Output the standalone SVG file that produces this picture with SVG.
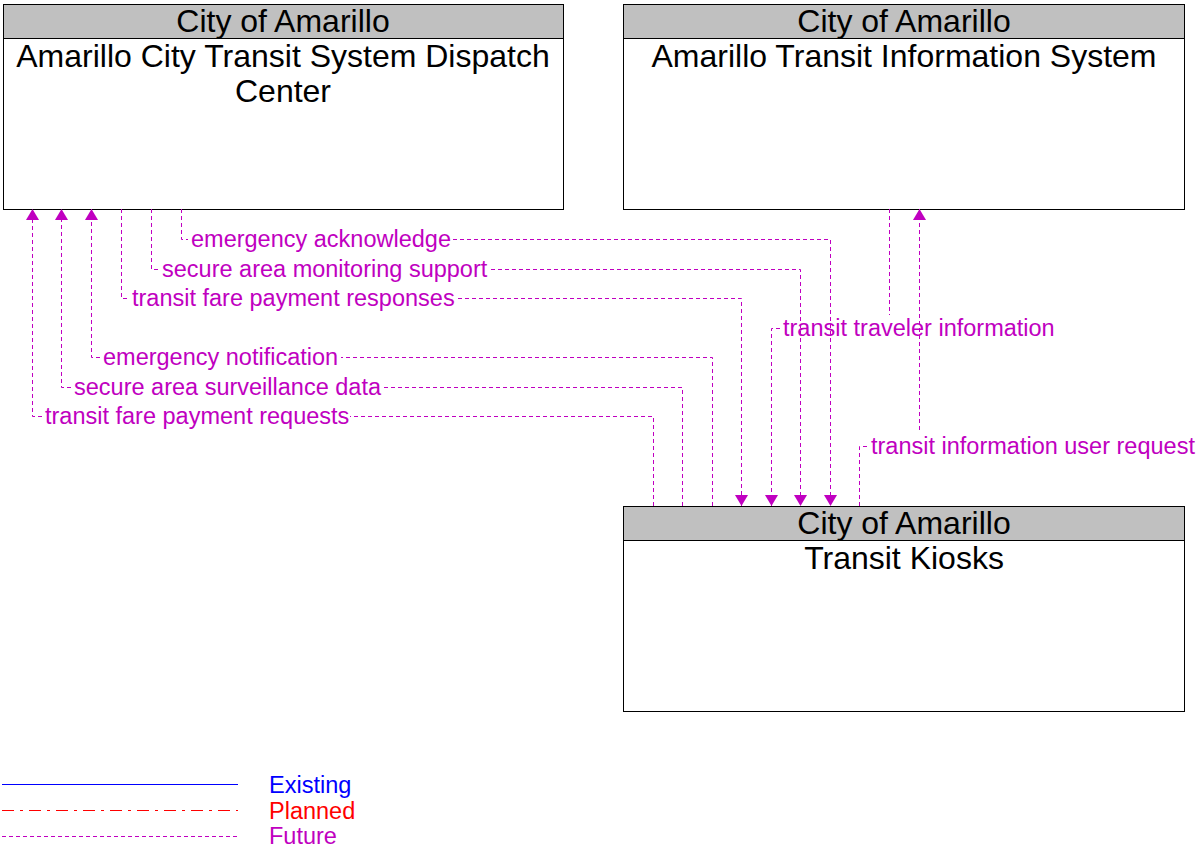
<svg xmlns="http://www.w3.org/2000/svg" width="1200" height="864" viewBox="0 0 1200 864">
<style>
.box{fill:#ffffff;stroke:#000000;stroke-width:1}
.hdr{fill:#c0c0c0;stroke:#000000;stroke-width:1}
.t{font-family:"Liberation Sans",Arial,sans-serif;font-size:32px;fill:#000000;text-anchor:middle}
.lbl{font-family:"Liberation Sans",Arial,sans-serif;font-size:23.5px;fill:#c000c0}
.fut{fill:none;stroke:#c000c0;stroke-width:1;stroke-dasharray:4,3}
</style>
<defs>
<marker id="arr" viewBox="0 0 11 13" refX="11" refY="6.5" markerWidth="11" markerHeight="13" markerUnits="userSpaceOnUse" orient="auto">
<path d="M0,0 L11,6.5 L0,13 z" fill="#c000c0"/>
</marker>
</defs>
<rect width="1200" height="864" fill="#ffffff"/>
<g id="dispatch">
<rect class="box" x="3.5" y="4.5" width="560" height="205"/>
<rect class="hdr" x="3.5" y="4.5" width="560" height="34"/>
<text class="t" x="283" y="32">City of Amarillo</text>
<text class="t" x="283" y="67">Amarillo City Transit System Dispatch</text>
<text class="t" x="283" y="102">Center</text>
</g>
<g id="infosys">
<rect class="box" x="623.5" y="4.5" width="561" height="205"/>
<rect class="hdr" x="623.5" y="4.5" width="561" height="34"/>
<text class="t" x="904" y="32">City of Amarillo</text>
<text class="t" x="904" y="67">Amarillo Transit Information System</text>
</g>
<g id="kiosks">
<rect class="box" x="623.5" y="506.5" width="561" height="205"/>
<rect class="hdr" x="623.5" y="506.5" width="561" height="34"/>
<text class="t" x="904" y="534">City of Amarillo</text>
<text class="t" x="904" y="569">Transit Kiosks</text>
</g>
<g id="connectors">
<path class="fut" d="M181.5,209V239.5H188"/>
<path class="fut" d="M453,239.5H830.5V506" marker-end="url(#arr)"/>
<text class="lbl" x="191" y="247">emergency acknowledge</text>
<path class="fut" d="M151.5,209V269.5H159"/>
<path class="fut" d="M491,269.5H800.5V506" marker-end="url(#arr)"/>
<text class="lbl" x="162" y="277">secure area monitoring support</text>
<path class="fut" d="M121.5,209V298.5H129"/>
<path class="fut" d="M458,298.5H741.5V506" marker-end="url(#arr)"/>
<text class="lbl" x="132" y="306">transit fare payment responses</text>
<path class="fut" d="M712.5,506V357.5H341"/>
<path class="fut" d="M100,357.5H91.5V209" marker-end="url(#arr)"/>
<text class="lbl" x="103" y="365">emergency notification</text>
<path class="fut" d="M682.5,506V387.5H382"/>
<path class="fut" d="M71,387.5H61.5V209" marker-end="url(#arr)"/>
<text class="lbl" x="74" y="395">secure area surveillance data</text>
<path class="fut" d="M653.5,506V416.5H350"/>
<path class="fut" d="M42,416.5H32.5V209" marker-end="url(#arr)"/>
<text class="lbl" x="45" y="424">transit fare payment requests</text>
<path class="fut" d="M889.5,209V315"/>
<path class="fut" d="M780,328.5H771.5V506" marker-end="url(#arr)"/>
<text class="lbl" x="783" y="336">transit traveler information</text>
<path class="fut" d="M859.5,506V446.5H868"/>
<path class="fut" d="M919.5,430V209" marker-end="url(#arr)"/>
<text class="lbl" x="871" y="454">transit information user request</text>
</g>
<g id="legend">
<line x1="2" y1="784.5" x2="238" y2="784.5" stroke="#0000ff" stroke-width="1"/>
<line x1="2" y1="810.5" x2="238" y2="810.5" stroke="#ff0000" stroke-width="1" stroke-dasharray="12,6,3,6"/>
<line x1="2" y1="836.5" x2="238" y2="836.5" class="fut"/>
<text class="lbl" x="269" y="793" style="fill:#0000ff">Existing</text>
<text class="lbl" x="269" y="818.5" style="fill:#ff0000">Planned</text>
<text class="lbl" x="269" y="844" style="fill:#c000c0">Future</text>
</g>
</svg>
